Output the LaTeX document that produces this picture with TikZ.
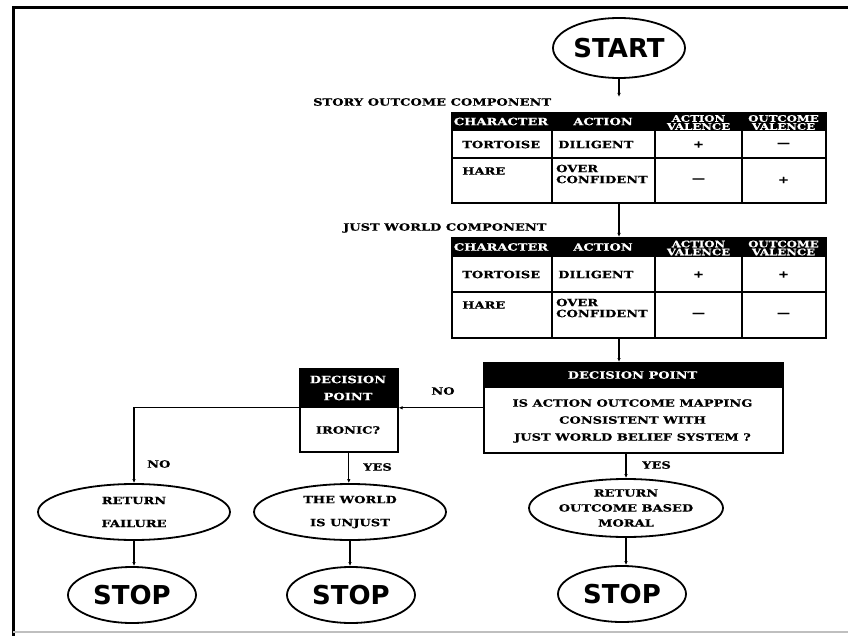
\documentclass[tikz,border=0pt]{standalone}
\usepackage{fontspec}
\usetikzlibrary{shapes.geometric,arrows.meta,positioning}
\newfontfamily\chartfont[FakeStretch=1.3,BoldFeatures={FakeBold=0.6}]{DejaVu Serif}
\newfontfamily\termfont{DejaVu Sans}

\begin{document}
\begin{tikzpicture}[x=1pt,y=-1pt]
    % Styles
    \tikzstyle{chart text} = [font=\chartfont\bfseries\fontsize{10}{11}\selectfont, inner sep=0pt]
    \tikzstyle{head text} = [chart text, text=white]
    \tikzstyle{table box} = [draw, rectangle, line width=1.6pt, minimum width=374pt, inner sep=0pt]
    \tikzstyle{table rule} = [line width=1.6pt]
    \tikzstyle{terminal} = [ellipse, draw, line width=1.8pt, minimum width=128pt, minimum height=56pt,
        inner sep=0pt, font=\termfont\bfseries\fontsize{26}{28}\selectfont]
    \tikzstyle{outcome} = [ellipse, draw, line width=1.8pt, minimum width=192pt, minimum height=56pt,
        inner sep=0pt, align=center]
    \tikzstyle{decision} = [draw, rectangle, line width=1.6pt, inner sep=0pt, anchor=north west]
    \tikzstyle{flow} = [line width=1.3pt, -{Latex[length=4pt,width=3.5pt]}]

    \useasboundingbox (0,0) rectangle (848,636);

    %%% Frame
    \draw[line width=3pt] (13,636) -- (13,8) -- (848,8);
    \draw[black!25, line width=1.5pt] (13,632) -- (848,632);

    %%% Start
    \node[terminal, minimum width=132pt, minimum height=60pt] (start) at (619,48) {START};

    %%% Tables
    \node[chart text, anchor=west] (storylbl) at (313,102) {STORY OUTCOME COMPONENT};
    \node[chart text, anchor=west] (worldlbl) at (343,228) {JUST WORLD COMPONENT};

    \foreach \tab/\ytop/\head/\rowline/\ybot/\tv/\tw/\hv/\hw in
        {tab1/112/131/158/202/+/—/—/+, tab2/237/257/292/337/+/+/—/—}
    {
        \node[table box, minimum height={(\ybot-\ytop)*1pt}, anchor=north west] (\tab) at (451,\ytop) {};
        \fill (451,\ytop) rectangle (825,\head);
        \draw[table rule] (451,\rowline) -- (825,\rowline);
        \foreach \x in {552,655,742}
            \draw[table rule] (\x,\head) -- (\x,\ybot);

        % header
        \node[head text] (\tab-char) at (501,{(\ytop+\head)/2}) {CHARACTER};
        \node[head text] (\tab-act) at (603,{(\ytop+\head)/2}) {ACTION};
        \node[head text, align=center, font=\chartfont\bfseries\fontsize{9}{8}\selectfont]
            (\tab-av) at (698.5,{(\ytop+\head)/2+1}) {ACTION\\VALENCE};
        \node[head text, align=center, font=\chartfont\bfseries\fontsize{9}{8}\selectfont]
            (\tab-ov) at (783.5,{(\ytop+\head)/2+1}) {OUTCOME\\VALENCE};

        % rows
        \node[chart text, anchor=west] (\tab-tort) at (462,{(\head+\rowline)/2}) {TORTOISE};
        \node[chart text, anchor=west] (\tab-dil) at (558,{(\head+\rowline)/2}) {DILIGENT};
        \node[chart text] (\tab-tv) at (698.5,{(\head+\rowline)/2}) {\tv};
        \node[chart text] (\tab-tw) at (783.5,{(\head+\rowline)/2}) {\tw};
        \node[chart text, anchor=west] (\tab-hare) at (462,{\rowline+13}) {HARE};
        \node[chart text, anchor=west, align=left] (\tab-over) at (556,{\rowline+16}) {OVER\\CONFIDENT};
        \node[chart text] (\tab-hv) at (698.5,{(\rowline+\ybot)/2}) {\hv};
        \node[chart text] (\tab-hw) at (783.5,{(\rowline+\ybot)/2}) {\hw};
    }

    %%% Decision points
    \node[decision, minimum width=299pt, minimum height=90pt] (dec) at (483,362) {};
    \fill (483,362) rectangle (782,388);
    \node[head text] (dechead) at (632.5,375) {DECISION POINT};
    \node[chart text, align=center, font=\chartfont\bfseries\fontsize{10}{17}\selectfont] (decq) at (632.5,421)
        {IS ACTION OUTCOME MAPPING\\CONSISTENT WITH\\JUST WORLD BELIEF SYSTEM ?};

    \node[decision, minimum width=98pt, minimum height=83pt] (irony) at (299,368) {};
    \fill (299,368) rectangle (397,408);
    \node[head text, align=center, font=\chartfont\bfseries\fontsize{10}{17}\selectfont] (ironyhead) at (348,388)
        {DECISION\\POINT};
    \node[chart text] (ironyq) at (348,430) {IRONIC?};

    %%% Outcomes
    \node[outcome, font=\chartfont\bfseries\fontsize{10}{23}\selectfont] (fail) at (134,512) {RETURN\\FAILURE};
    \node[outcome, font=\chartfont\bfseries\fontsize{10}{23}\selectfont] (unjust) at (350,512) {THE WORLD\\IS UNJUST};
    \node[outcome, minimum width=194pt, minimum height=58pt, font=\chartfont\bfseries\fontsize{10}{15}\selectfont]
        (moral) at (626,508) {RETURN\\OUTCOME BASED\\MORAL};

    \node[terminal] (stop1) at (132,595) {STOP};
    \node[terminal] (stop2) at (351,595) {STOP};
    \node[terminal] (stop3) at (622,594) {STOP};

    %%% Connectors
    \draw[flow, shorten >=15pt] (start.south) -- (start.south |- tab1.north);
    \draw[flow] (tab1.south -| start) -- (tab2.north -| start);
    \draw[flow] (tab2.south -| start) -- (dec.north -| start);

    \draw[flow] (dec.west) -- (irony.east |- dec.west);
    \node[chart text] (nolbl1) at (443,391) {NO};
    \draw[flow] (irony.west |- dec.west) -| (fail.north);
    \node[chart text, anchor=west] (nolbl2) at (147,464) {NO};
    \draw[flow] (irony.south) -- (irony.south |- unjust.north);
    \node[chart text, anchor=west] (yeslbl1) at (363,467) {YES};
    \draw[flow] (dec.south -| moral) -- (moral.north);
    \node[chart text, anchor=west] (yeslbl2) at (642,465) {YES};

    \draw[flow] (fail.south) -- (fail.south |- stop1.north);
    \draw[flow] (unjust.south) -- (unjust.south |- stop2.north);
    \draw[flow] (moral.south) -- (moral.south |- stop3.north);
\end{tikzpicture}
\end{document}
